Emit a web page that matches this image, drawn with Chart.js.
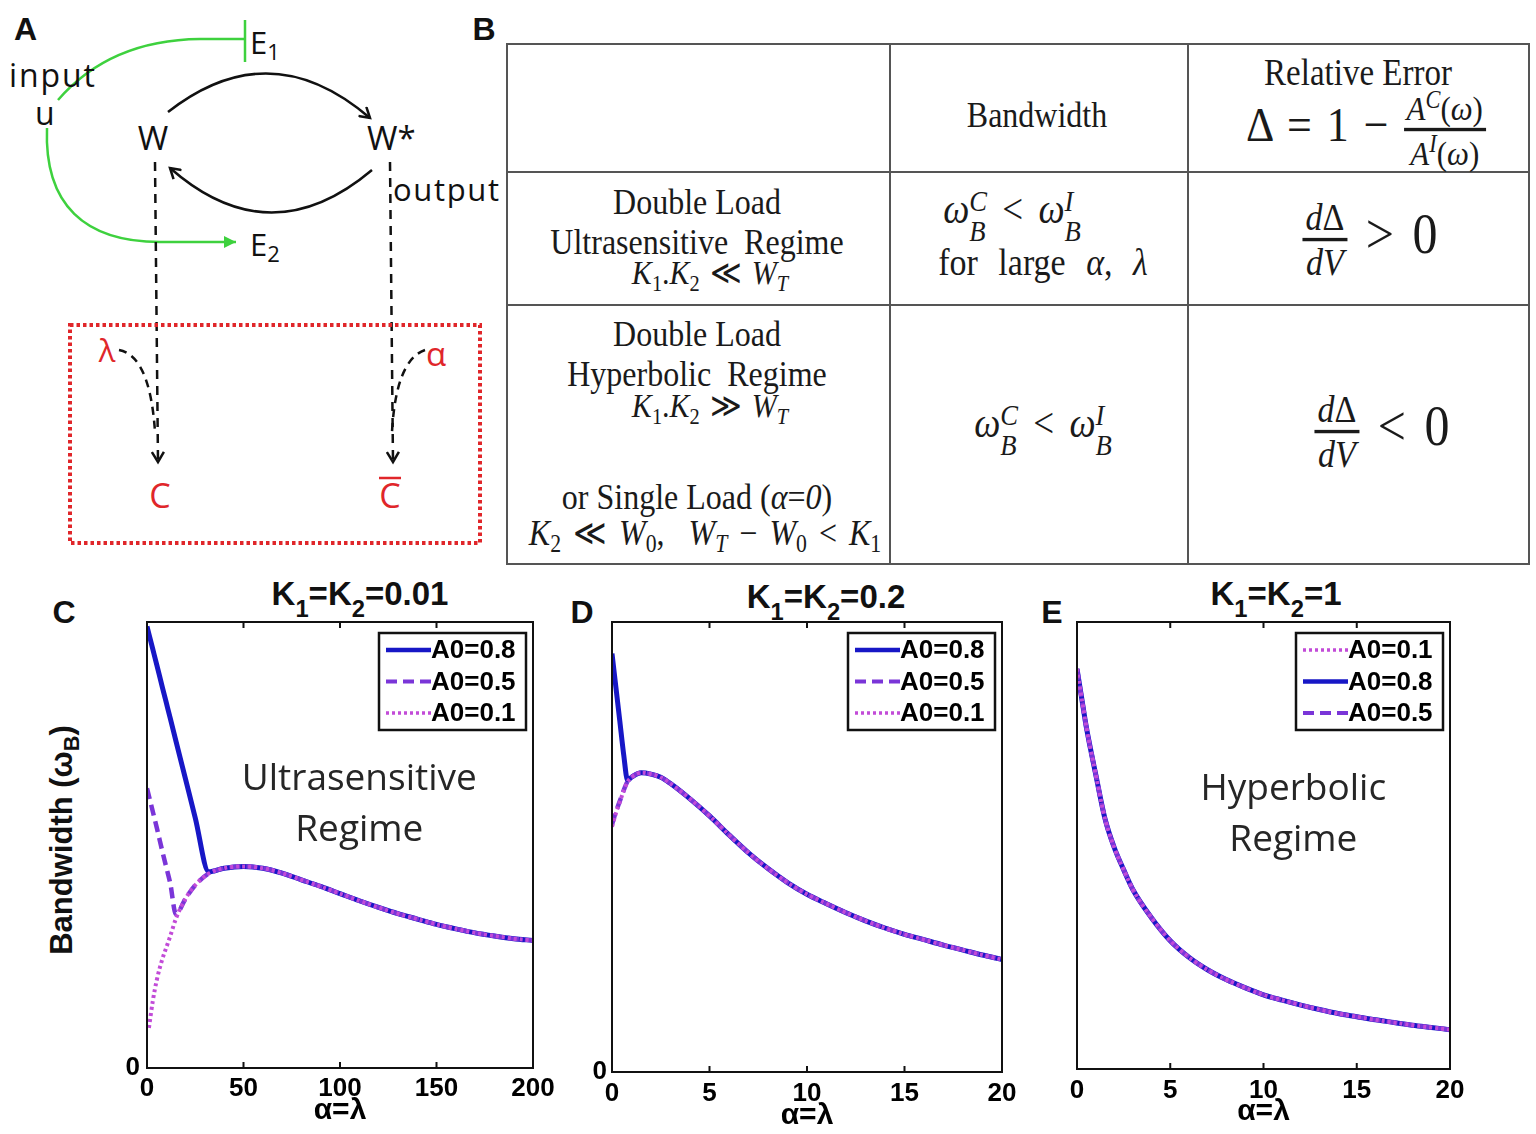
<!DOCTYPE html>
<html>
<head>
<meta charset="utf-8">
<script src="https://cdn.jsdelivr.net/npm/chart.js@4.4.1/dist/chart.umd.min.js"></script>
<style>
  body { margin: 0; background: #fff; width: 1536px; height: 1134px; position: relative; overflow: hidden;
         font-family: "Liberation Sans", Arial, sans-serif; color: #111; }
  canvas { position: absolute; }
  .letter { position: absolute; font-weight: bold; font-size: 32px; transform: translate(-50%, -50%); }
  .ptitle { position: absolute; font-weight: bold; font-size: 33px; transform: translate(-50%, -50%); white-space: nowrap; }
  .ptitle sub { font-size: 0.72em; vertical-align: -0.5em; line-height: 0; }
  .ylab { position: absolute; font-weight: bold; font-size: 31px; white-space: nowrap;
          transform: translate(-50%, -50%) rotate(-90deg); }
  .ylab sub { font-size: 0.7em; vertical-align: -0.3em; line-height: 0; }
  #tbl { position: absolute; left: 506px; top: 43px; width: 1024px; height: 522px; border: 2px solid #555; box-sizing: border-box; }
  .hl, .vl { position: absolute; background: #555; }
  .t { position: absolute; transform: translate(-50%, -50%) scaleY(1.12); white-space: nowrap;
       font-family: "Liberation Serif", "Times New Roman", serif; font-size: 32px; color: #1a1a1a; }
  .t.sm { font-size: 30px; }
  .t i { font-style: italic; }
  .ss { display: inline-block; vertical-align: -0.6em; font-size: 0.72em; line-height: 1.0; font-style: italic; text-align: left; }
  .ss span { display: block; }
  .frac { display: inline-block; vertical-align: middle; text-align: center; line-height: 1.1; }
  .frac span { display: block; padding: 0 3px; }
  .frac span.den { border-top: 3px solid #1a1a1a; }
  .sub { font-size: 0.68em; vertical-align: -0.3em; }
</style>
</head>
<body>

<!-- panel A: the cycle diagram -->
<svg style="position:absolute;left:0;top:0" width="505" height="560" font-family="Open Sans, sans-serif">
  <defs>
    <marker id="ah" markerUnits="userSpaceOnUse" markerWidth="14" markerHeight="14" refX="11" refY="7" orient="auto">
      <path d="M1,1 L11,7 L1,13" fill="none" stroke="#111" stroke-width="2.5"/>
    </marker>
    <marker id="ag" markerUnits="userSpaceOnUse" markerWidth="14" markerHeight="12" refX="12" refY="6" orient="auto">
      <path d="M0,0 L12,6 L0,12 Z" fill="#3ed13e"/>
    </marker>
  </defs>
  <text x="14" y="40" font-family="Liberation Sans, Arial" font-weight="bold" font-size="32" fill="#111">A</text>
  <!-- input signal -->
  <path d="M58 100 Q 110 40 200 39 L 245 39" fill="none" stroke="#3ed13e" stroke-width="2.5"/>
  <path d="M245 20 L 245 62" stroke="#3ed13e" stroke-width="2.5"/>
  <path d="M47 128 C 44 205, 85 242, 160 242 L 236 242" fill="none" stroke="#3ed13e" stroke-width="2.5" marker-end="url(#ag)"/>
  <text x="9" y="87" font-size="32" fill="#111" textLength="86">input</text>
  <text x="35" y="125" font-size="32" fill="#111">u</text>
  <text x="250" y="54" font-size="31" fill="#111">E<tspan font-size="22" dy="6">1</tspan></text>
  <text x="250" y="256" font-size="31" fill="#111">E<tspan font-size="22" dy="6">2</tspan></text>
  <!-- cycle -->
  <path d="M168 112 Q 270 32 370 118" fill="none" stroke="#111" stroke-width="2.5" marker-end="url(#ah)"/>
  <path d="M372 170 Q 270 256 170 168" fill="none" stroke="#111" stroke-width="2.5" marker-end="url(#ah)"/>
  <text x="153" y="150" font-size="33" fill="#111" text-anchor="middle">W</text>
  <text x="367" y="150" font-size="33" fill="#111">W*</text>
  <text x="393" y="201" font-size="31" fill="#111" textLength="106">output</text>
  <!-- load -->
  <path d="M155 162 L 158 462" fill="none" stroke="#111" stroke-width="2.5" stroke-dasharray="9 7" marker-end="url(#ah)"/>
  <path d="M390 162 L 393 462" fill="none" stroke="#111" stroke-width="2.5" stroke-dasharray="9 7" marker-end="url(#ah)"/>
  <path d="M119 350 Q 150 356 155 432" fill="none" stroke="#111" stroke-width="2.5" stroke-dasharray="8 6"/>
  <path d="M425 350 Q 396 360 392 432" fill="none" stroke="#111" stroke-width="2.5" stroke-dasharray="8 6"/>
  <rect x="70" y="325" width="410" height="218" fill="none" stroke="#e0262a" stroke-width="4" stroke-dasharray="3.5 3"/>
  <text x="107" y="362" font-size="31" fill="#e0262a" text-anchor="middle">λ</text>
  <text x="436" y="366" font-size="33" fill="#e0262a" text-anchor="middle">α</text>
  <text x="160" y="508" font-size="34" fill="#e0262a" text-anchor="middle">C</text>
  <text x="390" y="508" font-size="34" fill="#e0262a" text-anchor="middle">C</text>
  <path d="M379 478 L 401 478" stroke="#e0262a" stroke-width="2.5"/>
</svg>

<!-- panel B: summary table -->
<div class="letter" style="left:484px;top:29px">B</div>
<div id="tbl">
  <div class="vl" style="left:381px;top:0;width:2px;height:518px"></div>
  <div class="vl" style="left:679px;top:0;width:2px;height:518px"></div>
  <div class="hl" style="left:0;top:126px;width:1020px;height:2px"></div>
  <div class="hl" style="left:0;top:259px;width:1020px;height:2px"></div>
</div>
<div class="t" style="left:1037px;top:115px">Bandwidth</div>
<div class="t" style="left:1358px;top:73px;font-size:33px">Relative Error</div>
<div class="t" style="left:1366px;top:130px;font-size:44px;word-spacing:4px">Δ = 1 − <span class="frac" style="font-size:31px"><span><i>A</i><sup style="font-size:0.72em"><i>C</i></sup>(<i>ω</i>)</span><span class="den"><i>A</i><sup style="font-size:0.72em"><i>I</i></sup>(<i>ω</i>)</span></span></div>

<div class="t" style="left:697px;top:202px">Double Load</div>
<div class="t" style="left:697px;top:242px;word-spacing:8px">Ultrasensitive Regime</div>
<div class="t sm" style="left:710px;top:275px;word-spacing:3px"><i>K</i><span class="sub">1</span>.<i>K</i><span class="sub">2</span> ≪ <i>W</i><span class="sub"><i>T</i></span></div>
<div class="t" style="left:1012px;top:216px;font-size:37px;word-spacing:6px"><i>ω</i><span class="ss"><span>C</span><span>B</span></span> &lt; <i>ω</i><span class="ss"><span>I</span><span>B</span></span></div>
<div class="t" style="left:1043px;top:263px;font-size:34px;word-spacing:12px">for large <i>α</i>, <i>λ</i></div>
<div class="t" style="left:1370px;top:240px;font-size:50px;word-spacing:6px"><span class="frac" style="font-size:34px"><span><i>d</i>Δ</span><span class="den"><i>dV</i></span></span> &gt; 0</div>

<div class="t" style="left:697px;top:334px">Double Load</div>
<div class="t" style="left:697px;top:374px;word-spacing:8px">Hyperbolic Regime</div>
<div class="t sm" style="left:710px;top:408px;word-spacing:3px"><i>K</i><span class="sub">1</span>.<i>K</i><span class="sub">2</span> ≫ <i>W</i><span class="sub"><i>T</i></span></div>
<div class="t" style="left:697px;top:497px">or Single Load (<i>α</i>=<i>0</i>)</div>
<div class="t sm" style="left:705px;top:535px;font-size:32px;word-spacing:4px"><i>K</i><span class="sub">2</span> ≪ <i>W</i><span class="sub">0</span>, &nbsp;<i>W</i><span class="sub"><i>T</i></span> − <i>W</i><span class="sub">0</span> &lt; <i>K</i><span class="sub">1</span></div>
<div class="t" style="left:1043px;top:430px;font-size:37px;word-spacing:6px"><i>ω</i><span class="ss"><span>C</span><span>B</span></span> &lt; <i>ω</i><span class="ss"><span>I</span><span>B</span></span></div>
<div class="t" style="left:1382px;top:432px;font-size:50px;word-spacing:6px"><span class="frac" style="font-size:34px"><span><i>d</i>Δ</span><span class="den"><i>dV</i></span></span> &lt; 0</div>

<!-- panels C, D, E -->
<div class="letter" style="left:64px;top:612px">C</div>
<div class="letter" style="left:582px;top:612px">D</div>
<div class="letter" style="left:1052px;top:612px">E</div>
<div class="ptitle" style="left:360px;top:594px">K<sub>1</sub>=K<sub>2</sub>=0.01</div>
<div class="ptitle" style="left:826px;top:597px">K<sub>1</sub>=K<sub>2</sub>=0.2</div>
<div class="ptitle" style="left:1276px;top:594px">K<sub>1</sub>=K<sub>2</sub>=1</div>
<div class="ylab" style="left:62px;top:840px">Bandwidth (ω<sub>B</sub>)</div>

<canvas id="chartC" width="460" height="524" style="left:100px;top:610px"></canvas>
<canvas id="chartD" width="465" height="524" style="left:565px;top:610px"></canvas>
<canvas id="chartE" width="500" height="524" style="left:1030px;top:610px"></canvas>

<script>
// bandwidth (normalised to the plot height) against alpha = lambda
const cAlpha = [0, 1, 3, 5, 8, 10, 12, 15, 20, 25, 32, 40, 50, 60, 70, 80, 90, 100, 110, 120, 130, 140, 150, 160, 170, 180, 190, 200];
const cBw08 = [0.99, 0.973, 0.939, 0.905, 0.853, 0.819, 0.785, 0.733, 0.647, 0.561, 0.44, 0.448, 0.452, 0.448, 0.437, 0.422, 0.407, 0.391, 0.375, 0.36, 0.346, 0.334, 0.322, 0.312, 0.303, 0.296, 0.29, 0.286];
const cBw05 = [0.627, 0.61, 0.575, 0.54, 0.485, 0.45, 0.415, 0.345, 0.38, 0.41, 0.436, 0.448, 0.452, 0.448, 0.437, 0.422, 0.407, 0.391, 0.375, 0.36, 0.346, 0.334, 0.322, 0.312, 0.303, 0.296, 0.29, 0.286];
const cBw01 = [null, 0.09, 0.15, 0.196, 0.245, 0.27, 0.295, 0.335, 0.38, 0.41, 0.436, 0.448, 0.452, 0.448, 0.437, 0.422, 0.407, 0.391, 0.375, 0.36, 0.346, 0.334, 0.322, 0.312, 0.303, 0.296, 0.29, 0.286];

const dAlpha = [0, 0.2, 0.4, 0.6, 0.8, 1, 1.5, 2, 2.5, 3, 4, 5, 6, 7, 8, 9, 10, 11, 12, 13, 14, 15, 16, 17, 18, 19, 20];
const dBw08 = [0.93, 0.855, 0.78, 0.705, 0.648, 0.655, 0.665, 0.662, 0.655, 0.641, 0.607, 0.569, 0.527, 0.487, 0.452, 0.421, 0.395, 0.374, 0.354, 0.336, 0.32, 0.306, 0.294, 0.282, 0.271, 0.26, 0.25];
const dBw05 = [0.55, 0.578, 0.602, 0.626, 0.646, 0.655, 0.665, 0.662, 0.655, 0.641, 0.607, 0.569, 0.527, 0.487, 0.452, 0.421, 0.395, 0.374, 0.354, 0.336, 0.32, 0.306, 0.294, 0.282, 0.271, 0.26, 0.25];
const dBw01 = [0.545, 0.575, 0.6, 0.625, 0.645, 0.655, 0.665, 0.662, 0.655, 0.641, 0.607, 0.569, 0.527, 0.487, 0.452, 0.421, 0.395, 0.374, 0.354, 0.336, 0.32, 0.306, 0.294, 0.282, 0.271, 0.26, 0.25];

// in E all three loads give the same curve
const eAlpha = [0, 0.25, 0.5, 1, 1.5, 2, 2.5, 3, 4, 5, 6, 7, 8, 9, 10, 11, 12, 13, 14, 15, 16, 17, 18, 19, 20];
const eBw = [0.895, 0.83, 0.765, 0.66, 0.56, 0.495, 0.446, 0.401, 0.338, 0.287, 0.25, 0.222, 0.2, 0.182, 0.166, 0.154, 0.143, 0.133, 0.124, 0.117, 0.11, 0.104, 0.098, 0.093, 0.088];

const BLUE = '#1717c6', PURPLE = '#7a35d8', MAGENTA = '#c24bd8';
// order: higher is drawn first, so the dotted line ends up on top
const styles = {
  'A0=0.8': { color: BLUE, width: 5, dash: [], order: 3 },
  'A0=0.5': { color: PURPLE, width: 4.5, dash: [11, 6], order: 2 },
  'A0=0.1': { color: MAGENTA, width: 4, dash: [3, 3], order: 1 }
};

function series(label, xs, ys) {
  const s = styles[label];
  return {
    label,
    data: xs.map((x, i) => ({ x, y: ys[i] })),
    borderColor: s.color,
    borderWidth: s.width,
    borderDash: s.dash,
    order: s.order,
    pointRadius: 0,
    cubicInterpolationMode: 'monotone',
    spanGaps: true,
    fill: false
  };
}

// frame with inward ticks, boxed legend and the regime note
const matlabLook = {
  id: 'matlabLook',
  afterDatasetsDraw(chart, args, opts) {
    const { ctx, chartArea: a, scales: { x } } = chart;
    ctx.save();
    ctx.strokeStyle = '#111';
    ctx.lineWidth = 2;
    ctx.strokeRect(a.left, a.top, a.right - a.left, a.bottom - a.top);
    x.ticks.forEach(t => {
      const px = x.getPixelForValue(t.value);
      if (px < a.left + 2 || px > a.right - 2) return;
      ctx.beginPath();
      ctx.moveTo(px, a.bottom); ctx.lineTo(px, a.bottom - 6);
      ctx.moveTo(px, a.top); ctx.lineTo(px, a.top + 6);
      ctx.stroke();
    });

    if (opts.note) {
      const ny = chart.scales.y;
      ctx.fillStyle = '#262626';
      ctx.font = '37px "Open Sans", sans-serif';
      ctx.textAlign = 'center';
      ctx.textBaseline = 'middle';
      opts.note.lines.forEach((line, i) => {
        ctx.fillText(line, x.getPixelForValue(opts.note.x), ny.getPixelForValue(opts.note.y) + (i - 0.5) * 51);
      });
    }

    const w = 147, h = 97;
    const bx = a.right - 7 - w, by = a.top + 11;
    ctx.fillStyle = '#fff';
    ctx.fillRect(bx, by, w, h);
    ctx.lineWidth = 2.5;
    ctx.strokeStyle = '#111';
    ctx.strokeRect(bx, by, w, h);
    ctx.font = 'bold 26px "Liberation Sans", Arial, sans-serif';
    ctx.textAlign = 'left';
    ctx.textBaseline = 'middle';
    chart.data.datasets.forEach((ds, i) => {
      const yy = by + 17 + i * 31.5;
      ctx.beginPath();
      ctx.setLineDash(ds.borderDash);
      ctx.strokeStyle = ds.borderColor;
      ctx.lineWidth = ds.borderWidth - 0.5;
      ctx.moveTo(bx + 7, yy);
      ctx.lineTo(bx + 52, yy);
      ctx.stroke();
      ctx.setLineDash([]);
      ctx.fillStyle = '#000';
      ctx.fillText(ds.label, bx + 52, yy + 1);
    });
    ctx.restore();
  }
};

function makeChart(id, datasets, xMax, xStep, axis, note) {
  new Chart(document.getElementById(id), {
    type: 'line',
    data: { datasets },
    plugins: [matlabLook],
    options: {
      responsive: false,
      animation: false,
      devicePixelRatio: 1,
      layout: { padding: { left: 0, top: 12, right: axis.right, bottom: 0 } },
      plugins: {
        legend: { display: false },
        tooltip: { enabled: false },
        matlabLook: { note }
      },
      scales: {
        x: {
          type: 'linear',
          min: 0,
          max: xMax,
          grid: { display: false, drawTicks: false },
          border: { display: false },
          ticks: {
            stepSize: xStep,
            color: '#000',
            padding: axis.tickPad,
            maxRotation: 0,
            autoSkip: false,
            font: { family: '"Liberation Sans", Arial', size: 26, weight: 'bold' }
          },
          title: {
            display: true,
            text: 'α=λ',
            color: '#000',
            padding: { top: 0, bottom: axis.titlePad },
            font: { family: '"Liberation Sans", Arial', size: 30, weight: 'bold' }
          },
          afterFit: s => { s.height = axis.height; }
        },
        y: {
          min: 0,
          max: 1,
          grid: { display: false, drawTicks: false },
          border: { display: false },
          afterBuildTicks: s => { s.ticks = [{ value: 0 }]; },
          ticks: {
            display: axis.zero,
            color: '#000',
            padding: axis.yPad,
            font: { family: '"Liberation Sans", Arial', size: 26, weight: 'bold' }
          },
          afterFit: s => { s.width = 47; s.paddingTop = 0; s.paddingBottom = 0; }
        }
      }
    }
  });
}

makeChart('chartC', [
  series('A0=0.8', cAlpha, cBw08),
  series('A0=0.5', cAlpha, cBw05),
  series('A0=0.1', cAlpha, cBw01)
], 200, 50, { right: 27, height: 66, tickPad: 5, titlePad: 5, zero: true, yPad: 7 },
  { x: 110, y: 0.59, lines: ['Ultrasensitive', 'Regime'] });

makeChart('chartD', [
  series('A0=0.8', dAlpha, dBw08),
  series('A0=0.5', dAlpha, dBw05),
  series('A0=0.1', dAlpha, dBw01)
], 20, 5, { right: 28, height: 62, tickPad: 6, titlePad: 0, zero: true, yPad: 5 }, null);

makeChart('chartE', [
  series('A0=0.1', eAlpha, eBw),
  series('A0=0.8', eAlpha, eBw),
  series('A0=0.5', eAlpha, eBw)
], 20, 5, { right: 80, height: 65, tickPad: 6, titlePad: 4, zero: false, yPad: 5 },
  { x: 11.6, y: 0.568, lines: ['Hyperbolic', 'Regime'] });
</script>
</body>
</html>
